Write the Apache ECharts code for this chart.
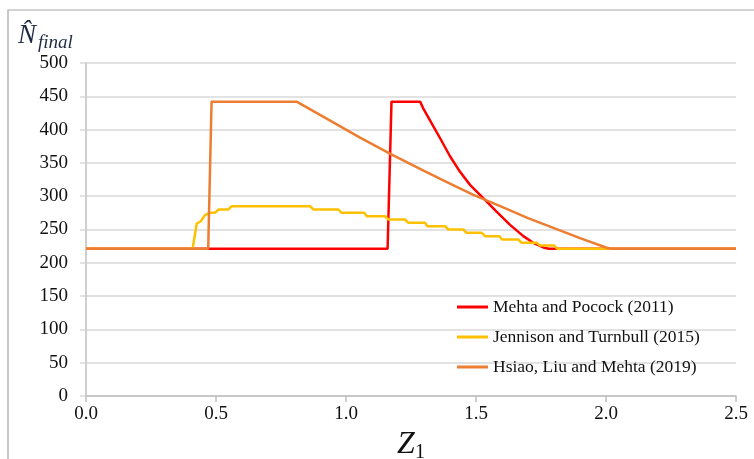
<!DOCTYPE html>
<html>
<head>
<meta charset="utf-8">
<script src="https://cdn.jsdelivr.net/npm/echarts@6/dist/echarts.min.js"></script>
<style>html,body{margin:0;padding:0;background:#fff}#c{width:754px;height:459px}</style>
</head>
<body>
<div id="c"></div>
<script>
var seriesNames = ['Mehta and Pocock (2011)', 'Jennison and Turnbull (2015)', 'Hsiao, Liu and Mehta (2019)'];
var xTicks = [0, 0.5, 1.0, 1.5, 2.0, 2.5];
var yTicks = [0, 50, 100, 150, 200, 250, 300, 350, 400, 450, 500];

var mehta = [[0,221],[1.16,221],[1.175,442],[1.285,442],[1.297,432],[1.323,414],[1.362,387],[1.4,360],[1.438,337],[1.477,317],[1.528,297],[1.579,277],[1.631,257],[1.682,240],[1.72,230],[1.759,223],[1.78,221],[2.5,221]];

var jennison = [[0,221],[0.41,221],[0.426,259],[0.441,262],[0.458,272],[0.477,275],[0.496,275],[0.51,280],[0.547,280],[0.56,285],[0.862,285],[0.875,280],[0.971,280],[0.983,275],[1.07,275],[1.08,270],[1.15,270],[1.163,265],[1.227,265],[1.24,260],[1.304,260],[1.313,255],[1.381,255],[1.394,250],[1.451,250],[1.464,245],[1.522,245],[1.535,240],[1.59,240],[1.60,235],[1.663,235],[1.676,230],[1.733,230],[1.746,226],[1.80,226],[1.813,221],[2.5,221]];

var hsiao = [[0,221],[0.47,221],[0.483,442],[0.81,442],[0.9,422],[1.0,400],[1.054,388],[1.169,364],[1.3,338],[1.4,319],[1.49,302],[1.6,284],[1.7,267],[1.8,252],[1.9,237],[2.0,223],[2.02,221],[2.5,221]];

var colors = ['#ff0000', '#ffc000', '#ed7d31'];
var serif = '"Liberation Serif", "DejaVu Serif", serif';

var chart = echarts.init(document.getElementById('c'));
var gridColor = '#d9d9d9';
var option = {
  animation: false,
  backgroundColor: '#fff',
  graphic: [{
    type: 'rect', shape: {x: 8, y: 10, width: 800, height: 500},
    style: {fill: 'none', stroke: '#a6a6a6', lineWidth: 1.2}, z: -1
  }],
  title: {
    text: '{n|N\u0302}{s|final}',
    left: 13, top: 15,
    textStyle: {
      rich: {
        n: {fontFamily: serif, fontStyle: 'italic', fontWeight: 'normal', fontSize: 27, color: '#1f2a44'},
        s: {fontFamily: serif, fontStyle: 'italic', fontWeight: 'normal', fontSize: 19, color: '#1f2a44', padding: [13, 0, 0, 2]}
      }
    }
  },
  legend: {
    orient: 'vertical',
    left: 452, top: 292,
    itemWidth: 31, itemHeight: 3, itemGap: 10,
    icon: 'rect',
    textStyle: {fontFamily: serif, fontSize: 17.5, color: '#111', lineHeight: 20},
    data: seriesNames
  },
  grid: {left: 86, right: 18, top: 63, bottom: 63, containLabel: false, outerBoundsMode: 'none'},
  xAxis: {
    type: 'value', min: 0, max: 2.5, interval: 0.5,
    name: '{z|Z}{o|1}', nameLocation: 'middle', nameGap: 28,
    nameTextStyle: {rich: {
      z: {fontFamily: serif, fontStyle: 'italic', fontSize: 32, color: '#111'},
      o: {fontFamily: serif, fontSize: 20, color: '#111', padding: [16, 0, 0, 0]}
    }},
    axisLine: {show: true, lineStyle: {color: '#bfbfbf', width: 1.5}},
    axisTick: {show: true, length: 6, lineStyle: {color: '#bfbfbf', width: 1.5}},
    splitLine: {show: false},
    axisLabel: {fontFamily: serif, fontSize: 19, color: '#111', margin: 9,
      formatter: function (v) { return v.toFixed(1); }}
  },
  yAxis: {
    type: 'value', min: 0, max: 500, interval: 50,
    axisLine: {show: true, lineStyle: {color: '#bfbfbf', width: 1.5}},
    axisTick: {show: true, length: 6, lineStyle: {color: gridColor, width: 1.5}},
    splitLine: {show: true, lineStyle: {color: gridColor, width: 1.5}},
    axisLabel: {fontFamily: serif, fontSize: 19, color: '#111', margin: 18}
  },
  series: [
    {name: seriesNames[0], type: 'line', data: mehta, showSymbol: false, color: colors[0], lineStyle: {width: 2.5, color: colors[0]}, z: 2},
    {name: seriesNames[1], type: 'line', data: jennison, showSymbol: false, color: colors[1], lineStyle: {width: 2.5, color: colors[1]}, z: 3},
    {name: seriesNames[2], type: 'line', data: hsiao, showSymbol: false, color: colors[2], lineStyle: {width: 2.5, color: colors[2]}, z: 4}
  ]
};
chart.setOption(option);
</script>
</body>
</html>
